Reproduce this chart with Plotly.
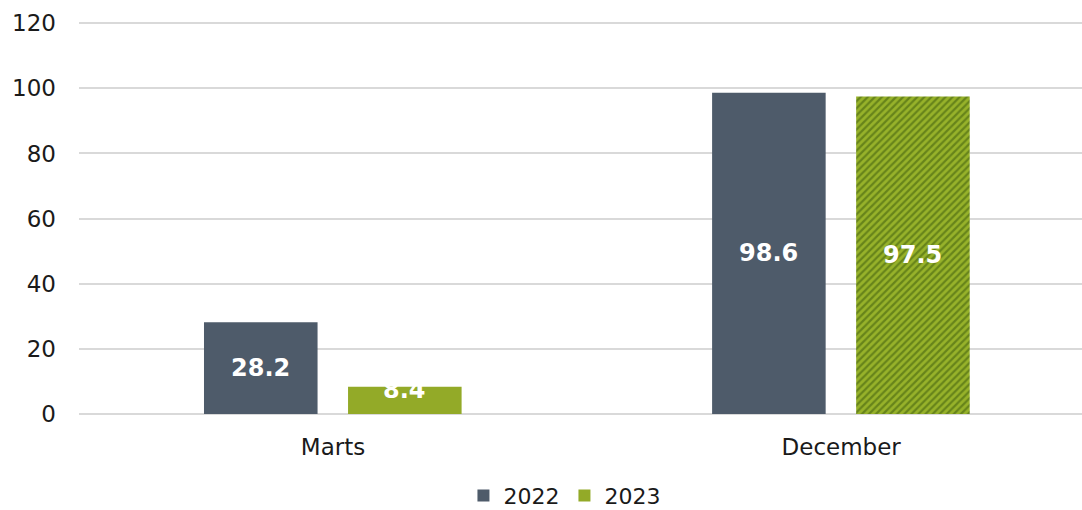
import plotly.graph_objects as go

categories = ["Marts", "December"]
series_names = ["2022", "2023"]
values_2022 = [28.2, 98.6]
values_2023 = [8.4, 97.5]
y_ticks = [0, 20, 40, 60, 80, 100, 120]

COL_2022 = "#4e5b6a"
COL_2023 = "#93aa28"
FONT = "DejaVu Sans"
BAR_W = 0.2235
OFFSETS = [-0.254, 0.0295]

fig = go.Figure()
fig.add_trace(go.Bar(
    x=categories, y=values_2022, name=series_names[0],
    marker=dict(color=COL_2022, line=dict(width=0)),
    width=BAR_W, offset=OFFSETS[0],
))
fig.add_trace(go.Bar(
    x=categories, y=values_2023, name=series_names[1],
    marker=dict(color=COL_2023, line=dict(width=0),
                pattern=dict(shape=["", "/"], fgcolor="#67841a", bgcolor="#97b22a",
                             size=5, solidity=0.45, fillmode="replace")),
    width=BAR_W, offset=OFFSETS[1],
))

# value labels (white, bold), centred in each bar
label_shift = {("2023", "Marts"): 10}
for name, vals, off in [(series_names[0], values_2022, OFFSETS[0]),
                        (series_names[1], values_2023, OFFSETS[1])]:
    for i, (c, v) in enumerate(zip(categories, vals)):
        fig.add_annotation(
            x=i + off + BAR_W / 2, y=v / 2, xref="x", yref="y",
            text=f"<b>{v:.1f}</b>", showarrow=False,
            font=dict(family=FONT, size=24, color="white"),
            yshift=label_shift.get((name, c), 0),
        )

fig.update_layout(
    width=1082, height=510,
    margin=dict(l=79, r=0, t=16, b=96, autoexpand=False),
    paper_bgcolor="white", plot_bgcolor="white",
    font=dict(family=FONT, size=23, color="#1a1a1a"),
    showlegend=True,
    legend=dict(orientation="h", x=0.484, xanchor="center",
                y=-0.205, yanchor="middle",
                font=dict(family=FONT, size=22, color="#1a1a1a"),
                itemwidth=30, tracegroupgap=0),
    xaxis=dict(type="category", range=[-0.5, 1.474], showgrid=False,
               showline=False, ticks="", ticklabelstandoff=17, automargin=False,
               tickfont=dict(family=FONT, size=23)),
    yaxis=dict(range=[0, 122.2], tickvals=y_ticks, showgrid=True,
               gridcolor="#d9d9d9", gridwidth=1.5, zeroline=True,
               zerolinecolor="#d9d9d9", zerolinewidth=1.5, showline=False,
               ticks="", ticklabelstandoff=22, automargin=False,
               tickfont=dict(family=FONT, size=23)),
)

fig.write_html(
    "out.html",
    config={"displayModeBar": False},
    post_script="document.body.style.margin='0px';document.body.style.overflow='hidden';",
)
